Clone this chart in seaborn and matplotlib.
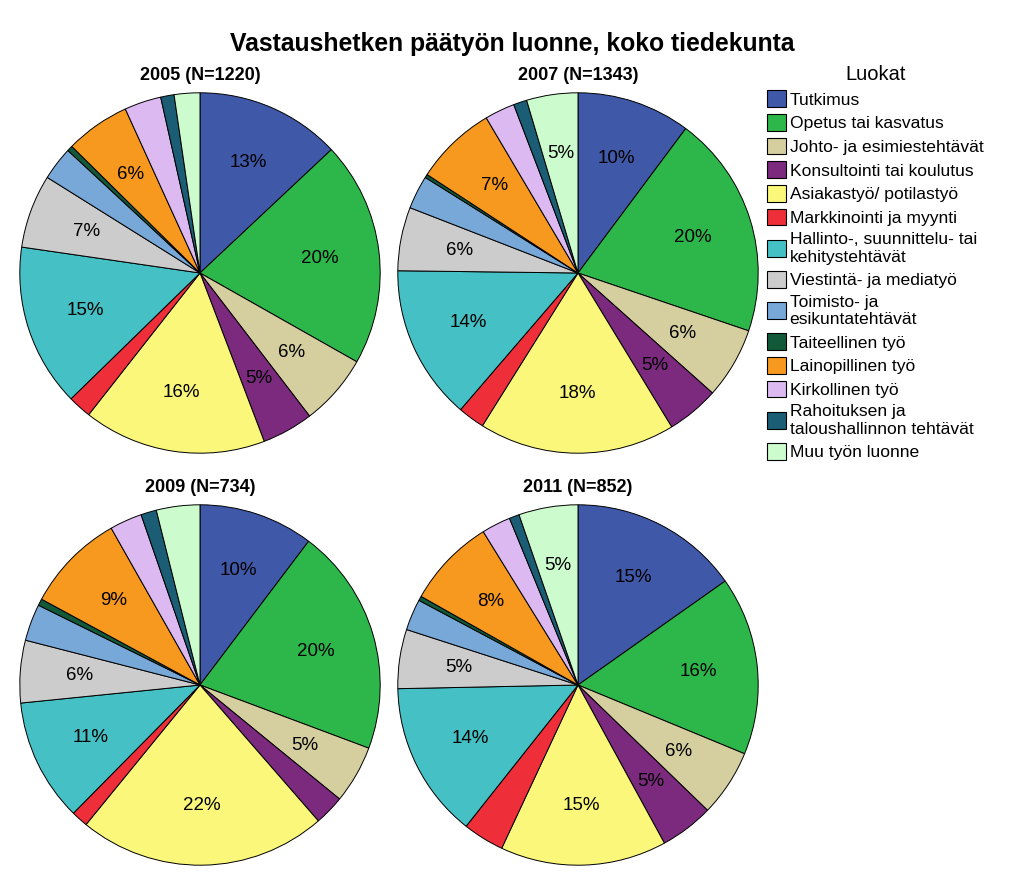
import matplotlib.pyplot as plt
import seaborn as sns

# categories (legend order, also wedge order clockwise from 12 o'clock)
categories = [
    "Tutkimus",
    "Opetus tai kasvatus",
    "Johto- ja esimiestehtävät",
    "Konsultointi tai koulutus",
    "Asiakastyö/ potilastyö",
    "Markkinointi ja myynti",
    "Hallinto-, suunnittelu- tai\nkehitystehtävät",
    "Viestintä- ja mediatyö",
    "Toimisto- ja\nesikuntatehtävät",
    "Taiteellinen työ",
    "Lainopillinen työ",
    "Kirkollinen työ",
    "Rahoituksen ja\ntaloushallinnon tehtävät",
    "Muu työn luonne",
]

# shares in percent
share_2005 = [13.0, 20.2, 6.4, 4.6, 16.4, 2.1, 14.6, 6.6, 3.0, 0.5, 5.8, 3.3, 1.2, 2.3]
share_2007 = [10.2, 20.0, 6.4, 4.7, 17.6, 2.4, 13.9, 5.7, 3.0, 0.3, 7.3, 2.7, 1.2, 4.6]
share_2009 = [10.3, 20.4, 5.2, 2.7, 22.3, 1.5, 11.0, 5.6, 3.3, 0.6, 8.9, 2.9, 1.4, 3.9]
share_2011 = [15.2, 16.0, 6.0, 4.8, 14.9, 3.7, 14.0, 5.3, 2.8, 0.4, 8.0, 2.6, 0.9, 5.3]

panel_titles = ["2005 (N=1220)", "2007 (N=1343)", "2009 (N=734)", "2011 (N=852)"]

colors = sns.color_palette([
    "#3F58A8", "#2DB64A", "#D5CFA0", "#7B2A7E", "#FAF77A", "#EE2F3A", "#45C0C4",
    "#CCCCCC", "#77A8D8", "#12593A", "#F7981F", "#DCB9F0", "#1B5D74", "#CCFCCE",
])

sns.set_style("white")
plt.rcParams["font.family"] = ["Liberation Sans", "DejaVu Sans"]
plt.rcParams["text.color"] = "black"

fig = plt.figure(figsize=(10.24, 8.86), dpi=100)
fig.text(512 / 1024, 1 - 44 / 886, "Vastaushetken päätyön luonne, koko tiedekunta",
         ha="center", va="center", fontsize=17.8, fontweight="bold")

# pie centres in pixels (x, y from top), radius in pixels
centres = [(200, 273), (578, 273), (200, 685), (578, 685)]
R = 182
W, H = 1024, 886


def autopct(p):
    return f"{p:.0f}%" if p >= 4.5 else ""


wedges_first = None
for data, title, (cx, cy) in zip([share_2005, share_2007, share_2009, share_2011], panel_titles, centres):
    ax = fig.add_axes([(cx - R) / W, 1 - (cy + R) / H, 2 * R / W, 2 * R / H])
    wedges, _, _ = ax.pie(data, colors=colors, startangle=90, counterclock=False,
                          autopct=autopct, pctdistance=0.67,
                          wedgeprops=dict(edgecolor="black", linewidth=0.7),
                          textprops=dict(fontsize=13.5, color="black"))
    ax.set_xlim(-1.01, 1.01)
    ax.set_ylim(-1.01, 1.01)
    ax.set_aspect("auto")
    fig.text(cx / W, 1 - (cy - R - 15) / H, title, ha="center", va="center",
             fontsize=13, fontweight="bold")
    if wedges_first is None:
        wedges_first = wedges

leg = fig.legend(wedges_first, categories, title="Luokat", loc="upper left",
                 bbox_to_anchor=(760 / W, 1 - 58 / H), frameon=False,
                 fontsize=12.6, title_fontsize=14.5, handlelength=1.1, handleheight=1.1,
                 handletextpad=0.2, labelspacing=0.36, borderaxespad=0)
for h in leg.legend_handles:
    h.set_linewidth(0.8)

fig.savefig("out.png", dpi=100)
